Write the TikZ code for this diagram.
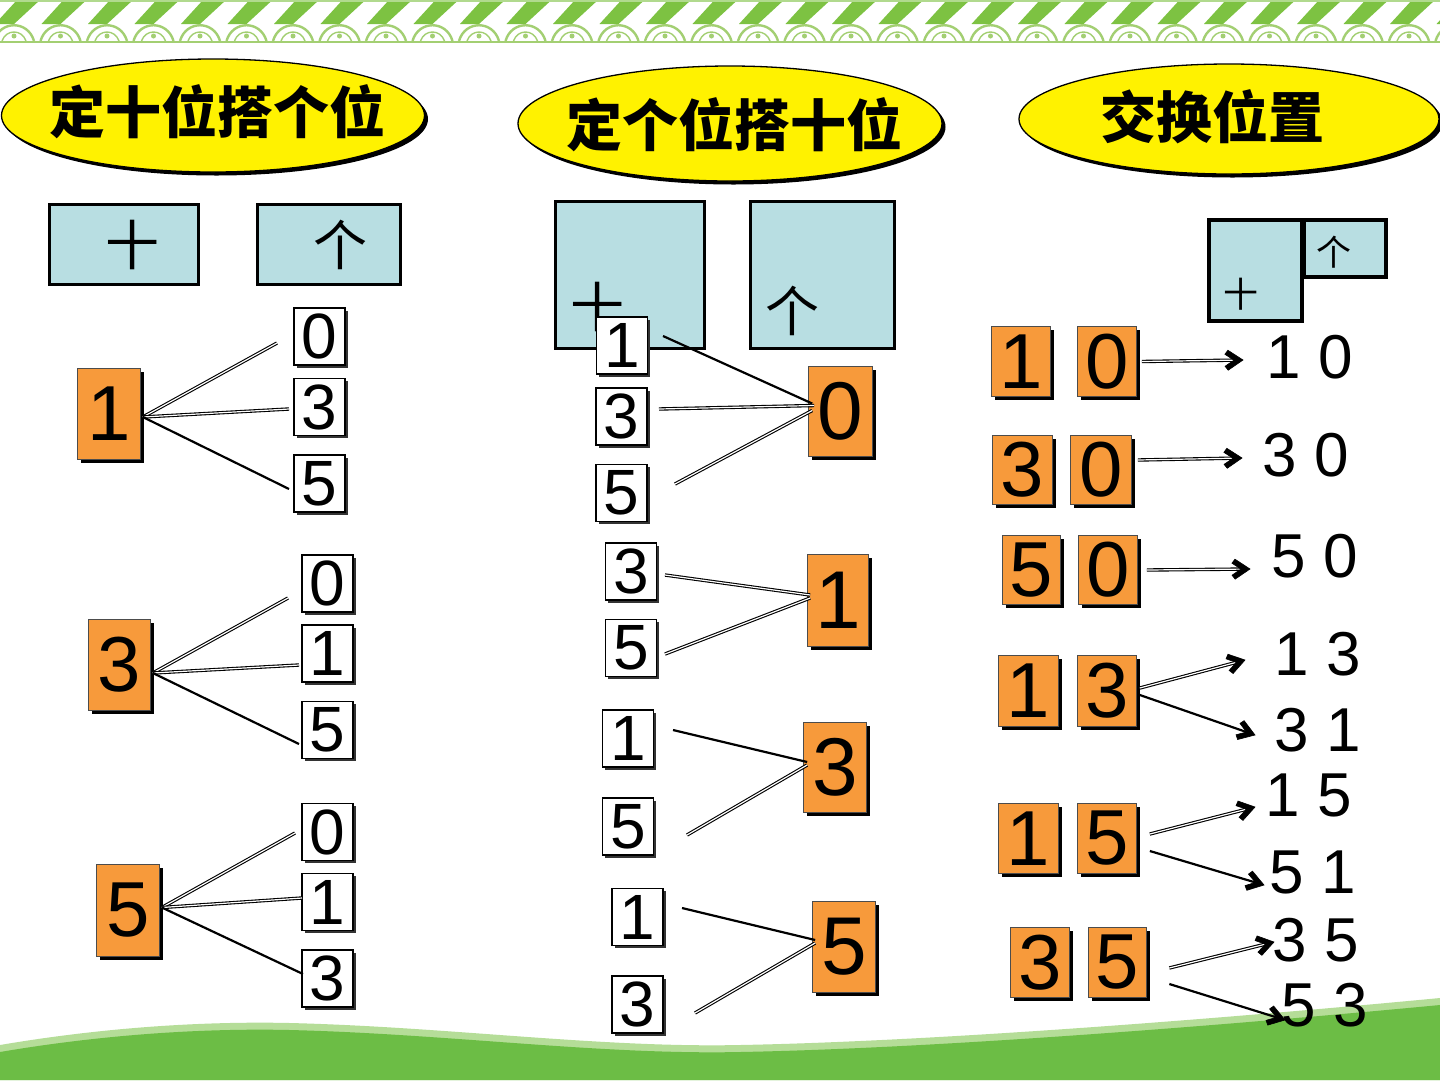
\documentclass[tikz,border=0pt]{standalone}
\usepackage{fontspec}
\setmainfont{Liberation Sans}
\newfontfamily\cjk{Noto Sans CJK SC}
\usetikzlibrary{shapes.geometric,shadows,calc}
\definecolor{oc}{HTML}{F79A3B}
\definecolor{bc}{HTML}{B8DEE2}
\definecolor{gstripe}{HTML}{7DC242}
\definecolor{garch}{HTML}{A3CF72}
\definecolor{gwave}{HTML}{6CBD45}
\definecolor{gwavel}{HTML}{B5DD98}
\begin{document}
\begin{tikzpicture}[x=1pt,y=-1pt,
  hdr/.style={ellipse, draw=black, line width=1.3pt, fill=yellow, inner sep=0pt,
    general shadow={fill=black, shadow xshift=3.5pt, shadow yshift=-3.5pt}},
  hdrt/.style={inner sep=0pt, font=\cjk\bfseries\fontsize{56}{58}\selectfont},
  bbox/.style={draw=black, line width=3.2pt, fill=bc, inner sep=0pt},
  bt/.style={inner sep=0pt, font=\cjk\fontsize{54}{56}\selectfont},
  bts/.style={inner sep=0pt, font=\cjk\fontsize{35}{37}\selectfont},
  obox/.style={draw=black!70, line width=0.7pt, fill=oc, inner sep=0pt,
    general shadow={fill=black, shadow xshift=3pt, shadow yshift=-3pt},
    font=\fontsize{78}{80}\selectfont},
  oboxm/.style={obox, font=\fontsize{82}{84}\selectfont},
  wbox/.style={draw=black, line width=1.2pt, fill=white, inner sep=0pt,
    minimum width=51pt, minimum height=57pt,
    general shadow={fill=black!80, shadow xshift=2.5pt, shadow yshift=-2.5pt},
    font=\fontsize{64}{66}\selectfont},
  dbl/.style={draw=black, double=white, double distance=1.2pt, line width=1.1pt},
  sgl/.style={draw=black, line width=2.2pt},
  chevf/.style={fill=black, draw=black, line width=0.6pt, line join=miter},
  res/.style={inner sep=0pt, font=\fontsize{62}{64}\selectfont}
]
\useasboundingbox (0,0) rectangle (1440,1080);
\fill[white] (0,0) rectangle (1440,1080);

% top border
\foreach \i in {0,...,31}{
  \pgfmathsetmacro\xx{\i*46.5-8}
  \fill[gstripe] (\xx+25,0) -- (\xx+48,0) -- (\xx+22,24) -- (\xx+3,24) -- cycle;
  \draw[garch, line width=2.4pt] (\xx+2,41) .. controls (\xx+8,20) and (\xx+36,20) .. (\xx+42,41);
  \draw[garch, line width=1.4pt] (\xx+10,41) .. controls (\xx+14,29) and (\xx+30,29) .. (\xx+34,41);
  \fill[garch] (\xx+22,36) circle (2.5);
}
\draw[garch, line width=1.8pt] (0,42) -- (1440,42);
\draw[gstripe!60, line width=1.5pt] (0,1) -- (1440,1);

% bottom wave
\fill[gwavel] (0,1045) .. controls (100,1028) and (200,1021) .. (290,1023) .. controls (450,1027) and (600,1048) .. (740,1045) .. controls (950,1041) and (1250,1016) .. (1440,998) -- (1440,1080) -- (0,1080) -- cycle;
\fill[gwave] (0,1052) .. controls (100,1035) and (200,1028) .. (290,1030) .. controls (450,1034) and (600,1055) .. (740,1052) .. controls (950,1048) and (1250,1023) .. (1440,1005) -- (1440,1080) -- (0,1080) -- cycle;

% headers
\node[hdr, minimum width=423pt, minimum height=113pt] (h1) at (213,115.5) {};
\node[hdrt] (h1t) at (217,112) {定十位搭个位};
\node[hdr, minimum width=424pt, minimum height=115pt] (h2) at (730,123.5) {};
\node[hdrt] (h2t) at (734,125) {定个位搭十位};
\node[hdr, minimum width=420pt, minimum height=110pt] (h3) at (1229,119) {};
\node[hdrt] (h3t) at (1212,117) {交换位置};

% place-value boxes
\node[bbox, minimum width=149pt, minimum height=80pt] (lt) at (124,244.5) {};
\node[bbox, minimum width=143pt, minimum height=80pt] (lg) at (329,244.5) {};
\node[bt] (ltt) at (132,245) {十};
\node[bt] (lgt) at (340,245) {个};

\node[bbox, minimum width=149pt, minimum height=147pt] (mt) at (630,275) {};
\node[bbox, minimum width=144pt, minimum height=147pt] (mg) at (822.5,275) {};
\node[bt] (mtt) at (597,307) {十};
\node[bt] (mgt) at (792,311) {个};

\node[bbox, minimum width=93pt, minimum height=101pt] (rt) at (1255.5,270.5) {};
\node[bbox, minimum width=82pt, minimum height=57pt] (rg) at (1345,248.5) {};
\node[bts] (rtt) at (1241,294) {十};
\node[bts] (rgt) at (1334,252) {个};

% left column: white boxes
\node[wbox] (a0) at (319.5,336.5) {0};
\node[wbox] (a3) at (319.5,407) {3};
\node[wbox] (a5) at (319.5,483.5) {5};
\node[wbox] (b0) at (327.5,583.5) {0};
\node[wbox] (b1) at (327.5,653.5) {1};
\node[wbox] (b5) at (327.5,730) {5};
\node[wbox] (c0) at (327.5,832) {0};
\node[wbox] (c1) at (327.5,902) {1};
\node[wbox] (c3) at (327.5,978.5) {3};

% left column: orange boxes
\node[obox, minimum width=63pt, minimum height=91pt] (o1) at (109,414) {1};
\node[obox, minimum width=62pt, minimum height=91pt] (o3) at (119.5,665) {3};
\node[obox, minimum width=63pt, minimum height=92pt] (o5) at (128,910.5) {5};

\coordinate (ea0) at (277,343);
\coordinate (ea3) at (289,409);
\coordinate (ea5) at (289,489);
\coordinate (eb0) at (288,598);
\coordinate (eb1) at (299,665);
\coordinate (eb5) at (299,744);
\coordinate (ec0) at (295,833);
\coordinate (ec1) at (302,898);
\coordinate (ec3) at (303,974);

\draw[dbl] ([xshift=2pt,yshift=-3pt]o1.east) -- (ea0);
\draw[dbl] ([xshift=2pt,yshift=-3pt]o1.east) -- (ea3);
\draw[sgl] ([xshift=2pt,yshift=-3pt]o1.east) -- (ea5);
\draw[dbl] ([xshift=2pt,yshift=-8pt]o3.east) -- (eb0);
\draw[dbl] ([xshift=2pt,yshift=-8pt]o3.east) -- (eb1);
\draw[sgl] ([xshift=2pt,yshift=-8pt]o3.east) -- (eb5);
\draw[dbl] ([xshift=2pt,yshift=3pt]o5.east) -- (ec0);
\draw[dbl] ([xshift=2pt,yshift=3pt]o5.east) -- (ec1);
\draw[sgl] ([xshift=2pt,yshift=3pt]o5.east) -- (ec3);

% middle column: white boxes
\node[wbox] (m1) at (622,345.5) {1};
\node[wbox] (m3) at (621.5,416.5) {3};
\node[wbox] (m5) at (621.5,493) {5};
\node[wbox] (n3) at (631,571.5) {3};
\node[wbox] (n5) at (631,648) {5};
\node[wbox] (p1) at (628,738.5) {1};
\node[wbox] (p5) at (628,826.5) {5};
\node[wbox] (q1) at (637.5,917) {1};
\node[wbox] (q3) at (637.5,1004.5) {3};

\coordinate (sm1) at (663,336);
\coordinate (sm3) at (659,409);
\coordinate (sm5) at (675,484);
\coordinate (sn3) at (665,575);
\coordinate (sn5) at (665,654);
\coordinate (sp1) at (673,730);
\coordinate (sp5) at (687,835);
\coordinate (sq1) at (682,908);
\coordinate (sq3) at (695,1013);

% middle column: orange boxes
\node[oboxm, minimum width=64pt, minimum height=90pt] (mO0) at (840.5,411.5) {0};
\node[oboxm, minimum width=61pt, minimum height=92pt] (nO1) at (838,600.5) {1};
\node[oboxm, minimum width=63pt, minimum height=90pt] (pO3) at (835,767.5) {3};
\node[oboxm, minimum width=63pt, minimum height=91pt] (qO5) at (844,947) {5};

\draw[sgl] (sm1) -- ([xshift=4pt,yshift=8pt]mO0.west);
\draw[dbl] (sm3) -- ([xshift=6pt,yshift=6pt]mO0.west);
\draw[dbl] (sm5) -- ([xshift=4pt,yshift=1pt]mO0.west);
\draw[dbl] (sn3) -- ([xshift=3pt,yshift=5.5pt]nO1.west);
\draw[dbl] (sn5) -- ([xshift=3pt,yshift=2.5pt]nO1.west);
\draw[sgl] (sp1) -- ([xshift=4pt,yshift=5.5pt]pO3.west);
\draw[dbl] (sp5) -- ([xshift=4pt,yshift=2.5pt]pO3.west);
\draw[sgl] (sq1) -- ([xshift=3pt,yshift=7pt]qO5.west);
\draw[dbl] (sq3) -- ([xshift=3pt,yshift=4pt]qO5.west);

% right column: orange pairs
\node[obox, minimum width=59pt, minimum height=70pt] (r1a) at (1021,361.5) {1};
\node[obox, minimum width=59pt, minimum height=70pt] (r1b) at (1107,361.5) {0};
\node[obox, minimum width=60pt, minimum height=69pt] (r2a) at (1022.5,470) {3};
\node[obox, minimum width=61pt, minimum height=69pt] (r2b) at (1101,470) {0};
\node[obox, minimum width=58pt, minimum height=69pt] (r3a) at (1031.5,570) {5};
\node[obox, minimum width=59pt, minimum height=69pt] (r3b) at (1108,570) {0};
\node[obox, minimum width=60pt, minimum height=71pt] (r4a) at (1028.5,691) {1};
\node[obox, minimum width=59pt, minimum height=71pt] (r4b) at (1107,691) {3};
\node[obox, minimum width=60pt, minimum height=70pt] (r5a) at (1028.5,838.5) {1};
\node[obox, minimum width=59pt, minimum height=70pt] (r5b) at (1107,838.5) {5};
\node[obox, minimum width=59pt, minimum height=70pt] (r6a) at (1040,962.5) {3};
\node[obox, minimum width=58pt, minimum height=70pt] (r6b) at (1117.5,962.5) {5};

% right column: results
\node[res] (t10) at (1310,357) {1 0};
\node[res] (t30) at (1306,455) {3 0};
\node[res] (t50) at (1315,556) {5 0};
\node[res] (t13) at (1318,654) {1 3};
\node[res] (t31) at (1318,730) {3 1};
\node[res] (t15) at (1309,795) {1 5};
\node[res] (t51) at (1313,872) {5 1};
\node[res] (t35) at (1316,940) {3 5};
\node[res] (t53) at (1325,1005) {5 3};

\coordinate (k1) at (1243,360);
\coordinate (k2) at (1242,458);
\coordinate (k3) at (1250,569);
\coordinate (k4) at (1245,660);
\coordinate (k5) at (1255,735);
\coordinate (k6) at (1255,807);
\coordinate (k7) at (1264,885);
\coordinate (k8) at (1274,942);
\coordinate (k9) at (1285,1020);

\coordinate (j1) at ([xshift=5pt]r1b.east);
\coordinate (j2) at ([xshift=6pt,yshift=10pt]r2b.east);
\coordinate (j3) at ([xshift=9pt]r3b.east);
\coordinate (j4) at ([xshift=3pt,yshift=3pt]r4b.east);
\coordinate (j5) at ([xshift=3pt,yshift=-4pt]r4b.east);
\coordinate (j6) at ([xshift=13pt,yshift=4.5pt]r5b.east);
\coordinate (j7) at ([xshift=13pt,yshift=-12.5pt]r5b.east);
\coordinate (j8) at ([xshift=22.5pt,yshift=-5.5pt]r6b.east);
\coordinate (j9) at ([xshift=22.5pt,yshift=-21.5pt]r6b.east);

\draw[dbl, shorten >=8pt] (j1) -- (k1);
\draw[dbl, shorten >=8pt] (j2) -- (k2);
\draw[dbl, shorten >=8pt] (j3) -- (k3);
\draw[dbl, shorten >=8pt] (j4) -- (k4);
\draw[sgl, shorten >=8pt] (j5) -- (k5);
\draw[dbl, shorten >=8pt] (j6) -- (k6);
\draw[sgl, shorten >=8pt] (j7) -- (k7);
\draw[dbl, shorten >=8pt] (j8) -- (k8);
\draw[sgl, shorten >=8pt] (j9) -- (k9);
\foreach \s/\e in {j1/k1,j2/k2,j3/k3,j4/k4,j5/k5,j6/k6,j7/k7,j8/k8,j9/k9}{
  \fill[chevf] (\e) -- ($(\e)!18pt!33.7:(\s)$) -- ($(\e)!19pt!18.4:(\s)$)
     -- ($(\e)!9pt!(\s)$) -- ($(\e)!19pt!-18.4:(\s)$) -- ($(\e)!18pt!-33.7:(\s)$) -- cycle;
}
\end{tikzpicture}
\end{document}
